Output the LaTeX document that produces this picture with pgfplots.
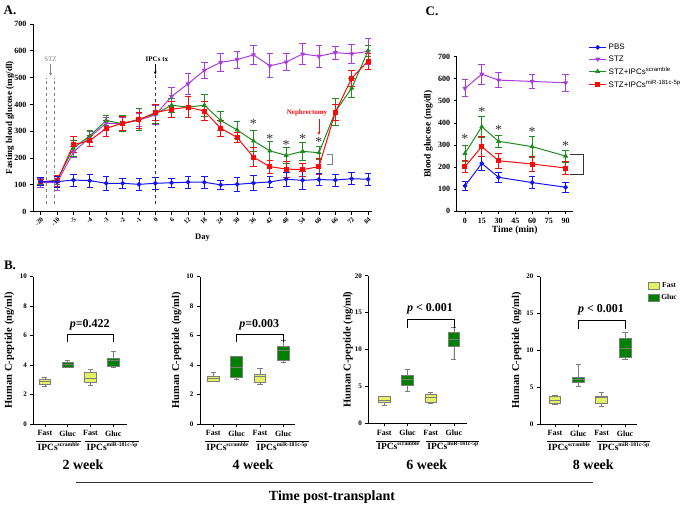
\documentclass[border=0pt]{standalone}
\usepackage{fontspec}
\setmainfont{Liberation Serif}
\newfontfamily\arialfont{Liberation Sans}
\usepackage{pgfplots}
\pgfplotsset{compat=1.18}
\usepackage{pgfplotstable}
\usepgfplotslibrary{statistics}
\usetikzlibrary{arrows.meta}

\definecolor{cblue}{RGB}{20,20,245}
\definecolor{cpurple}{RGB}{170,60,220}
\definecolor{cgreen}{RGB}{30,140,30}
\definecolor{cred}{RGB}{250,10,10}
\definecolor{fastc}{RGB}{228,242,100}
\definecolor{glucc}{RGB}{0,128,0}
\definecolor{boxedge}{RGB}{125,125,125}
\definecolor{astc}{RGB}{50,50,50}

\newcommand{\fs}[1]{\fontsize{#1}{#1}\selectfont}
\newcommand{\ipcs}[1]{IPCs\raisebox{0.42em}{\fs{5.6}#1}}

\pgfplotstableread{
x pbs pbse stz stze grn grne red rede
0 112 15 108 18 110 10 112 15
1 112 20 108 28 118 15 115 20
2 118 22 222 20 237 30 250 30
3 116 24 278 20 283 20 265 20
4 106 25 330 22 340 20 311 30
5 106 18 328 25 328 30 330 25
6 102 22 342 25 345 40 342 30
7 106 22 361 35 365 35 370 30
8 108 18 430 35 397 25 382 30
9 110 22 477 40 390 40 390 40
10 110 22 527 30 397 40 375 35
11 100 18 557 32 340 35 311 30
12 102 25 567 32 305 30 277 20
13 107 28 585 35 264 40 203 35
14 111 20 544 45 227 35 168 25
15 121 25 558 32 210 30 159 30
16 117 32 588 38 225 35 157 25
17 120 22 580 40 220 25 168 30
18 118 22 593 25 373 50 371 30
19 123 22 589 35 461 35 498 30
20 121 22 598 50 600 20 562 30
}\dataA

\pgfplotstableread{
t pbs pbse stz stze grn grne red rede
0 115 22 557 38 262 38 202 27
15 217 32 621 45 383 48 293 45
30 154 22 594 33 317 28 229 35
60 130 28 588 32 293 48 214 35
90 109 22 582 40 250 28 196 28
}\dataC

\tikzset{
  grp/.style={font=\bfseries\fs{9.5}, inner sep=1pt},
  pval/.style={font=\bfseries\fs{12}},
  ast/.style={astc, font=\fs{14}, yshift=-2pt},
}

\pgfplotsset{
  base/.style={scale only axis, axis lines=left, axis line style={line width=1pt,-},
    tick style={black, line width=0.8pt}, tick align=outside, major tick length=3pt,
    /pgf/number format/assume math mode=true, tick label style={font=\bfseries\fs{8}},
    clip=false},
  ebar/.style={error bars/.cd, y dir=both, y explicit,
    error bar style={line width=0.8pt},
    error mark options={rotate=90, mark size=3.3pt, line width=0.8pt}},
  spbs/.style={cblue, line width=1pt, mark=*, mark size=1.8pt},
  sstz/.style={cpurple, line width=1pt, mark=triangle*, mark size=2pt, mark options={rotate=180}},
  sgrn/.style={cgreen, line width=1pt, mark=triangle*, mark size=2pt},
  sred/.style={cred, line width=1pt, mark=square*, mark size=2pt},
  bstyle/.style={base, anchor=south west, height=147.5pt, ymin=0,
    xtick={0,1,2,3}, xticklabels={Fast,Gluc,Fast,Gluc},
    xticklabel style={font=\bfseries\fs{8}}, yticklabel style={font=\bfseries\fs{7}},
    ylabel={Human C-peptide (ng/ml)}, ylabel style={font=\bfseries\fs{10.5}},
    boxplot/draw direction=y, boxplot/box extend=0.5, boxplot/whisker extend=0.22},
  fastb/.style={fill=fastc, draw=boxedge, line width=0.7pt, forget plot},
  glucb/.style={fill=glucc, draw=boxedge, line width=0.7pt, forget plot},
}

\begin{document}
\begin{tikzpicture}
\useasboundingbox (0pt,0pt) rectangle (685pt,-506pt);

% ---------------- Panel A ----------------
\begin{axis}[base, at={(33pt,-211.7pt)}, anchor=south west, width=339pt, height=187.7pt,
  xmin=-0.47, xmax=20.24, ymin=0, ymax=700, ytick={0,100,...,700},
  xtick={0,...,20}, xticklabels={-20,-10,-5,-4,-3,-2,-1,0,6,12,18,24,30,36,42,48,54,60,66,72,84},
  xticklabel style={rotate=45, anchor=north east, inner sep=1.5pt, font=\bfseries\fs{6.5}},
  ylabel={Fasting blood glucose (mg/dl)},
  ylabel style={at={(axis description cs:-0.068,0.5)}, anchor=center, font=\bfseries\fs{9}},
  xlabel={Day},
  xlabel style={at={(axis description cs:0.5,-0.14)}, anchor=center, font=\bfseries\fs{8.5}}]
\addplot[sstz, ebar] table[x=x, y=stz, y error=stze] {\dataA};
\addplot[sgrn, ebar] table[x=x, y=grn, y error=grne] {\dataA};
\addplot[sred, ebar] table[x=x, y=red, y error=rede] {\dataA};
\addplot[spbs, ebar] table[x=x, y=pbs, y error=pbse] {\dataA};
\draw[gray, dashed, line width=0.6pt] (axis cs:0.37,30) -- (axis cs:0.37,500);
\draw[gray, dashed, line width=0.6pt] (axis cs:0.83,30) -- (axis cs:0.83,500);
\node[gray, font=\fs{7}] at (axis cs:0.6,567) {STZ};
\draw[gray, line width=0.6pt, -{Stealth[length=3pt,width=3pt]}] (axis cs:0.6,552) -- (axis cs:0.6,507);
\draw[black!80, dashed, line width=0.6pt] (axis cs:7,30) -- (axis cs:7,530);
\node[font=\bfseries\fs{7}] at (axis cs:7.1,570) {IPCs tx};
\draw[black, line width=0.6pt, -{Stealth[length=3pt,width=3pt]}] (axis cs:7,552) -- (axis cs:7,512);
\node[cred, font=\bfseries\fs{7}] at (axis cs:16.27,368) {Nephrectomy};
\draw[cred, line width=0.6pt, -{Stealth[length=3pt,width=3pt]}] (axis cs:17,346) -- (axis cs:17,287);
\node[ast] at (axis cs:13,333) {*};
\node[ast] at (axis cs:14,280) {*};
\node[ast] at (axis cs:15,258) {*};
\node[ast] at (axis cs:16,278) {*};
\node[ast] at (axis cs:17,268) {*};
\draw[gray, line width=0.8pt] (axis cs:17.5,215) -- (axis cs:17.8,215) -- (axis cs:17.8,178) -- (axis cs:17.5,178);
\end{axis}

% ---------------- Panel C ----------------
\begin{axis}[base, at={(456.7pt,-211.3pt)}, anchor=south west, width=116pt, height=154.6pt,
  xmin=-7.4, xmax=96.3, ymin=0, ymax=700, xtick={0,15,...,90}, ytick={0,100,...,700},
  ylabel={Blood glucose (mg/dl)},
  ylabel style={at={(axis description cs:-0.245,0.5)}, anchor=center, font=\bfseries\fs{9.5}},
  xlabel={Time (min)},
  xlabel style={at={(axis description cs:0.5,-0.121)}, anchor=center, font=\bfseries\fs{9.5}},
  legend style={at={(axis description cs:1.11,1.11)}, anchor=north west, draw=none, fill=none,
    font=\arialfont\fs{8}, row sep=0.5pt},
  legend cell align=left]
\addplot[spbs, ebar] table[x=t, y=pbs, y error=pbse] {\dataC};
\addlegendentry{PBS}
\addplot[sstz, ebar] table[x=t, y=stz, y error=stze] {\dataC};
\addlegendentry{STZ}
\addplot[sgrn, ebar] table[x=t, y=grn, y error=grne] {\dataC};
\addlegendentry{STZ+IPCs\textsuperscript{scramble}}
\addplot[sred, ebar] table[x=t, y=red, y error=rede] {\dataC};
\addlegendentry{STZ+IPCs\textsuperscript{miR-181c-5p}}
\node[ast] at (axis cs:0,338) {*};
\node[ast] at (axis cs:15,459) {*};
\node[ast] at (axis cs:30,379) {*};
\node[ast] at (axis cs:60,368) {*};
\node[ast] at (axis cs:90,305) {*};
\draw[black!80, line width=0.8pt] (axis cs:93.8,258) -- (axis cs:105.5,258) -- (axis cs:105.5,169) -- (axis cs:93.8,169);
\end{axis}

% ---------------- Panel B1 (2 week) ----------------
\begin{axis}[bstyle, at={(33.3pt,-424pt)}, width=93.4pt, xmin=-0.51, xmax=3.59, ymax=10, ytick={0,2,...,10},
  ylabel style={at={(axis description cs:-0.257,0.5)}, anchor=center}]
\addplot[fastb, boxplot prepared={median=2.87, upper quartile=3.05, lower quartile=2.69, upper whisker=3.19, lower whisker=2.58, draw position=0}] coordinates {};
\addplot[glucb, boxplot prepared={median=4.05, upper quartile=4.16, lower quartile=3.84, upper whisker=4.29, lower whisker=3.82, draw position=1}] coordinates {};
\addplot[fastb, boxplot prepared={median=3.1, upper quartile=3.5, lower quartile=2.8, upper whisker=3.7, lower whisker=2.62, draw position=2}] coordinates {};
\addplot[glucb, boxplot prepared={median=4.34, upper quartile=4.47, lower quartile=3.93, upper whisker=4.93, lower whisker=3.84, draw position=3}] coordinates {};
\draw[line width=0.7pt] (axis cs:1,5.54) -- (axis cs:1,6.08) -- (axis cs:3,6.08) -- (axis cs:3,5.54);
\node[pval] at (axis cs:1.97,6.7) {\textit{p}=0.422};
\node[grp] (s1) at (axis cs:0.6,-1.54) {\ipcs{scramble}};
\node[grp] (m1) at (axis cs:2.95,-1.54) {\ipcs{miR-181c-5p}};
\draw[line width=0.6pt] (s1.north west) -- (s1.north east);
\draw[line width=0.6pt] (m1.north west) -- (m1.north east);
\end{axis}

% ---------------- Panel B2 (4 week) ----------------
\begin{axis}[bstyle, at={(200pt,-424pt)}, width=95pt, xmin=-0.57, xmax=3.5, ymax=10, ytick={0,2,...,10},
  ylabel style={at={(axis description cs:-0.245,0.5)}, anchor=center}]
\addplot[fastb, boxplot prepared={median=3.07, upper quartile=3.2, lower quartile=2.92, upper whisker=3.5, lower whisker=2.9, draw position=0}] coordinates {};
\addplot[glucb, boxplot prepared={median=3.82, upper quartile=4.61, lower quartile=3.16, upper whisker=4.61, lower whisker=3.03, draw position=1}] coordinates {};
\addplot[fastb, boxplot prepared={median=3.2, upper quartile=3.39, lower quartile=2.82, upper whisker=3.77, lower whisker=2.69, draw position=2}] coordinates {};
\addplot[glucb, boxplot prepared={median=4.97, upper quartile=5.29, lower quartile=4.29, upper whisker=5.7, lower whisker=4.2, draw position=3}] coordinates {};
\draw[line width=0.7pt] (axis cs:1,5.54) -- (axis cs:1,6.08) -- (axis cs:3,6.08) -- (axis cs:3,5.54);
\node[pval] at (axis cs:1.97,6.7) {\textit{p}=0.003};
\node[grp] (s2) at (axis cs:0.6,-1.54) {\ipcs{scramble}};
\node[grp] (m2) at (axis cs:2.95,-1.54) {\ipcs{miR-181c-5p}};
\draw[line width=0.6pt] (s2.north west) -- (s2.north east);
\draw[line width=0.6pt] (m2.north west) -- (m2.north east);
\end{axis}

% ---------------- Panel B3 (6 week) ----------------
\begin{axis}[bstyle, at={(368.3pt,-423.3pt)}, width=98.4pt, xmin=-0.69, xmax=3.55, ymax=20, ytick={0,5,...,20},
  ylabel style={at={(axis description cs:-0.206,0.5)}, anchor=center}]
\addplot[fastb, boxplot prepared={median=3.18, upper quartile=3.64, lower quartile=2.86, upper whisker=3.7, lower whisker=2.5, draw position=0}] coordinates {};
\addplot[glucb, boxplot prepared={median=5.9, upper quartile=6.5, lower quartile=5.09, upper whisker=7.27, lower whisker=4.3, draw position=1}] coordinates {};
\addplot[fastb, boxplot prepared={median=3.55, upper quartile=3.86, lower quartile=2.82, upper whisker=4.18, lower whisker=2.73, draw position=2}] coordinates {};
\addplot[glucb, boxplot prepared={median=11.36, upper quartile=12.4, lower quartile=10.45, upper whisker=13.05, lower whisker=8.7, draw position=3}] coordinates {};
\draw[line width=0.7pt] (axis cs:1,12.95) -- (axis cs:1,14.1) -- (axis cs:3,14.1) -- (axis cs:3,12.95);
\node[pval] at (axis cs:1.97,15.5) {\textit{p} < 0.001};
\node[grp] (s3) at (axis cs:0.6,-3.08) {\ipcs{scramble}};
\node[grp] (m3) at (axis cs:2.95,-3.08) {\ipcs{miR-181c-5p}};
\draw[line width=0.6pt] (s3.north west) -- (s3.north east);
\draw[line width=0.6pt] (m3.north west) -- (m3.north east);
\end{axis}

% ---------------- Panel B4 (8 week) ----------------
\begin{axis}[bstyle, at={(540pt,-424pt)}, width=96.7pt, xmin=-0.64, xmax=3.5, ymax=20, ytick={0,5,...,20},
  ylabel style={at={(axis description cs:-0.241,0.5)}, anchor=center},
  legend style={at={(axis description cs:1.08,0.985)}, anchor=north west, draw=none, fill=none,
    font=\bfseries\fs{7.5}, row sep=1pt},
  legend image code/.code={\draw[#1] (0pt,-3.5pt) rectangle (11pt,3.5pt);}]
\addplot[fastb, boxplot prepared={median=3.18, upper quartile=3.73, lower quartile=2.82, upper whisker=3.95, lower whisker=2.6, draw position=0}] coordinates {};
\addplot[glucb, boxplot prepared={median=6.05, upper quartile=6.36, lower quartile=5.68, upper whisker=8.1, lower whisker=5.14, draw position=1}] coordinates {};
\addplot[fastb, boxplot prepared={median=3.55, upper quartile=3.77, lower quartile=2.82, upper whisker=4.3, lower whisker=2.4, draw position=2}] coordinates {};
\addplot[glucb, boxplot prepared={median=10.23, upper quartile=11.6, lower quartile=9.1, upper whisker=12.4, lower whisker=8.77, draw position=3}] coordinates {};
\addlegendimage{fill=fastc, draw=boxedge, line width=0.7pt}
\addlegendentry{Fast}
\addlegendimage{fill=glucc, draw=boxedge, line width=0.7pt}
\addlegendentry{Gluc}
\draw[line width=0.7pt] (axis cs:1,12.95) -- (axis cs:1,14.1) -- (axis cs:3,14.1) -- (axis cs:3,12.95);
\node[pval] at (axis cs:1.97,15.5) {\textit{p} < 0.001};
\node[grp] (s4) at (axis cs:0.6,-3.08) {\ipcs{scramble}};
\node[grp] (m4) at (axis cs:2.95,-3.08) {\ipcs{miR-181c-5p}};
\draw[line width=0.6pt] (s4.north west) -- (s4.north east);
\draw[line width=0.6pt] (m4.north west) -- (m4.north east);
\end{axis}

% ---------------- global labels ----------------
\node[font=\bfseries\fs{13}] at (10pt,-10pt) {A.};
\node[font=\bfseries\fs{13}] at (10pt,-265pt) {B.};
\node[font=\bfseries\fs{13}] at (432pt,-11pt) {C.};
\node[font=\bfseries\fs{14}] at (83pt,-465pt) {2 week};
\node[font=\bfseries\fs{14}] at (253pt,-465pt) {4 week};
\node[font=\bfseries\fs{14}] at (426.7pt,-465pt) {6 week};
\node[font=\bfseries\fs{14}] at (593.3pt,-465pt) {8 week};
\draw[line width=1pt, black!80] (76pt,-482.7pt) -- (593pt,-482.7pt);
\node[font=\bfseries\fs{14}] at (332pt,-497pt) {Time post-transplant};
\end{tikzpicture}
\end{document}
